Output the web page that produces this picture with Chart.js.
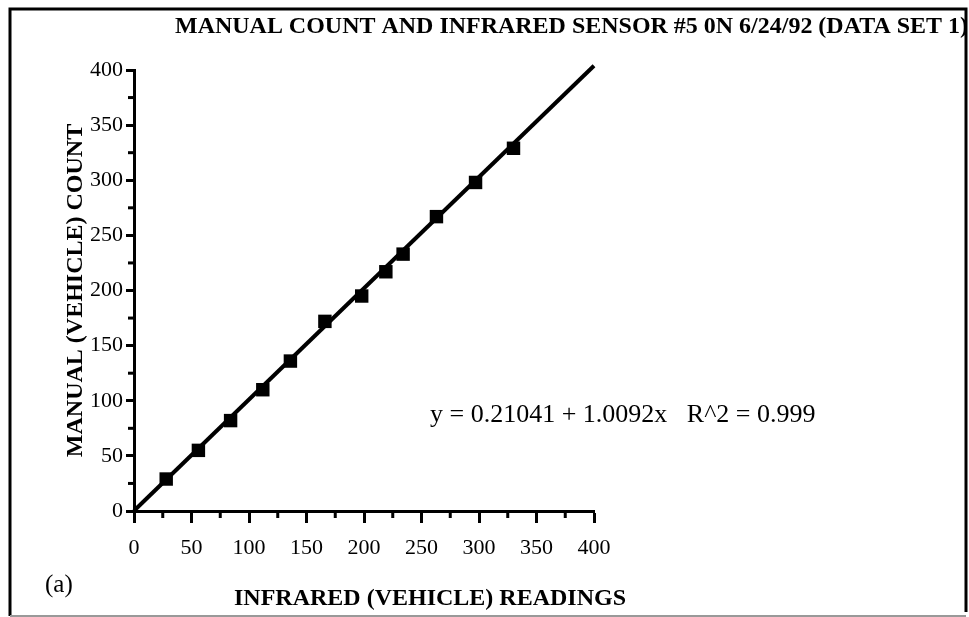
<!DOCTYPE html>
<html>
<head>
<meta charset="utf-8">
<script src="https://cdn.jsdelivr.net/npm/chart.js@4"></script>
<style>
    html, body { margin: 0; padding: 0; background: #fff; }
    #chart { display: block; }
</style>
</head>
<body>
<canvas id="chart" width="969" height="617"></canvas>
<script>
// infrared sensor readings vs manual counts
var infraredReadings = [28, 56, 84, 112, 136, 166, 198, 219, 234, 263, 297, 330];
var manualCounts = [29, 55, 82, 110, 136, 172, 195, 217, 233, 267, 298, 329];

// end points of the fitted line y = 0.21041 + 1.0092x
var fitX = [0, 400];
var fitY = [0.21, 403.9];

var tickValues = [0, 50, 100, 150, 200, 250, 300, 350, 400];
var minorTickValues = [25, 75, 125, 175, 225, 275, 325, 375];

var titleText = "MANUAL COUNT AND INFRARED SENSOR #5 0N 6/24/92 (DATA SET 1)";
var xTitle = "INFRARED (VEHICLE) READINGS";
var yTitle = "MANUAL (VEHICLE) COUNT";
var equationText = "y = 0.21041 + 1.0092x   R^2 = 0.999";
var panelLabel = "(a)";

var serif = "'Liberation Serif', 'Times New Roman', serif";

var points = infraredReadings.map(function (x, i) {
    return { x: x, y: manualCounts[i] };
});
var fitPoints = fitX.map(function (x, i) {
    return { x: x, y: fitY[i] };
});

// frame, titles, minor ticks and the text notes
var decorations = {
    id: 'decorations',
    afterDraw: function (chart) {
        var ctx = chart.ctx;
        var xs = chart.scales.x;
        var ys = chart.scales.y;
        var area = chart.chartArea;

        ctx.save();

        // minor ticks
        ctx.strokeStyle = '#000';
        ctx.lineWidth = 3;
        minorTickValues.forEach(function (v) {
            var px = xs.getPixelForValue(v);
            ctx.beginPath();
            ctx.moveTo(px, area.bottom);
            ctx.lineTo(px, area.bottom + 7);
            ctx.stroke();

            var py = ys.getPixelForValue(v);
            ctx.beginPath();
            ctx.moveTo(area.left - 6, py);
            ctx.lineTo(area.left, py);
            ctx.stroke();
        });

        // frame
        ctx.lineWidth = 3;
        ctx.beginPath();
        ctx.moveTo(10, 616);
        ctx.lineTo(10, 9);
        ctx.lineTo(966, 9);
        ctx.lineTo(966, 612);
        ctx.stroke();
        ctx.strokeStyle = '#999';
        ctx.lineWidth = 2;
        ctx.beginPath();
        ctx.moveTo(10, 616);
        ctx.lineTo(966, 616);
        ctx.stroke();

        // title, squeezed to run off the right edge like the scan
        ctx.fillStyle = '#000';
        ctx.font = "bold 24px " + serif;
        ctx.textBaseline = 'alphabetic';
        ctx.textAlign = 'left';
        var w = ctx.measureText(titleText).width;
        var sx = (968 - 175) / w;
        ctx.save();
        ctx.translate(175, 33);
        ctx.scale(sx, 1);
        ctx.fillText(titleText, 0, 0);
        ctx.restore();

        // x axis title
        ctx.font = "bold 24px " + serif;
        ctx.fillText(xTitle, 234, 605);

        // regression note
        ctx.font = "26px " + serif;
        ctx.fillText(equationText, 430, 422);

        // panel label
        ctx.font = "25px " + serif;
        ctx.fillText(panelLabel, 45, 592);

        ctx.restore();
    }
};

var canvas = document.getElementById('chart');

var chart = new Chart(canvas, {
    type: 'scatter',
    data: {
        datasets: [
            {
                label: 'fit',
                type: 'line',
                data: fitPoints,
                borderColor: '#000',
                borderWidth: 4,
                pointRadius: 0,
                fill: false,
                clip: false,
                order: 2
            },
            {
                label: 'counts',
                data: points,
                pointStyle: 'rect',
                pointRadius: 9.5,
                pointHoverRadius: 9.5,
                backgroundColor: '#000',
                borderColor: '#000',
                borderWidth: 0,
                clip: false,
                order: 1
            }
        ]
    },
    options: {
        responsive: false,
        animation: false,
        events: [],
        layout: {
            padding: { left: 0, top: 70, right: 375, bottom: 0 }
        },
        plugins: {
            legend: { display: false },
            tooltip: { enabled: false },
            title: { display: false }
        },
        scales: {
            x: {
                type: 'linear',
                min: 0,
                max: 400,
                afterFit: function (scale) { scale.height = 106; },
                afterBuildTicks: function (scale) {
                    scale.ticks = tickValues.map(function (v) { return { value: v }; });
                },
                border: { display: true, color: '#000', width: 3 },
                grid: {
                    drawOnChartArea: false,
                    drawTicks: true,
                    tickLength: 12,
                    tickWidth: 3,
                    tickColor: '#000'
                },
                ticks: {
                    color: '#000',
                    padding: 12,
                    maxRotation: 0,
                    font: { family: serif, size: 22 }
                },
                title: { display: false }
            },
            y: {
                type: 'linear',
                min: 0,
                max: 400,
                afterFit: function (scale) { scale.width = 134; },
                afterBuildTicks: function (scale) {
                    scale.ticks = tickValues.map(function (v) { return { value: v }; });
                },
                border: { display: true, color: '#000', width: 3 },
                grid: {
                    drawOnChartArea: false,
                    drawTicks: true,
                    tickLength: 8,
                    tickWidth: 3,
                    tickColor: '#000'
                },
                ticks: {
                    color: '#000',
                    padding: 3,
                    font: { family: serif, size: 22 }
                },
                title: {
                    display: true,
                    text: yTitle,
                    color: '#000',
                    padding: { top: 61, bottom: 0 },
                    font: { family: serif, size: 24, weight: 'bold' }
                }
            }
        }
    },
    plugins: [decorations]
});
</script>
</body>
</html>
